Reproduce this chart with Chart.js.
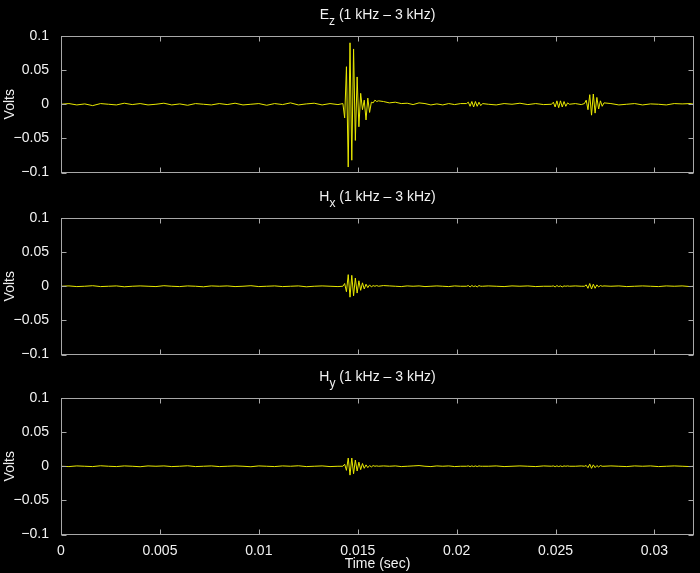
<!DOCTYPE html>
<html><head><meta charset="utf-8">
<script src="https://cdn.jsdelivr.net/npm/chart.js@4"></script>
<style>
html,body{margin:0;padding:0;background:#000;}
#wrap{position:relative;width:700px;height:573px;background:#000;}
#wrap canvas{position:absolute;left:0;top:0;}
</style></head><body>
<div id="wrap">
<canvas id="ch-ez" width="700" height="573"></canvas>
<canvas id="ch-hx" width="700" height="573"></canvas>
<canvas id="ch-hy" width="700" height="573"></canvas>
</div>
<script>
// ── DATA ──
// sample times (sec): coarse in quiet stretches, fine through the bursts
const timeSec=[
  0,0.0004,0.0008,0.0012,0.0016,0.002,0.0024,0.0028,0.0032,0.0036,
  0.004,0.0044,0.0048,0.0052,0.0056,0.006,0.0064,0.0068,0.0072,0.0076,
  0.008,0.0084,0.0088,0.0092,0.0096,0.01,0.0104,0.0108,0.0112,0.0116,
  0.012,0.0124,0.0128,0.0132,0.0136,0.014,
  0.01425,0.01434,0.01443,0.01452,0.01461,0.0147,0.01479,0.01488,0.01497,0.01506,
  0.01515,0.01524,0.01533,0.01542,0.01551,0.0156,0.01569,0.01578,0.01587,0.01596,0.01605,
  0.0163,0.0166,0.0169,0.0172,0.0175,0.0178,0.0181,0.0184,0.0187,0.019,0.0193,0.0196,0.0199,0.0202,
  0.0205,0.02059,0.02068,0.02077,0.02086,0.02095,0.02104,0.02113,0.02122,0.02131,
  0.0216,0.022,0.0224,0.0228,0.0232,0.0236,0.024,0.0244,
  0.0248,0.02489,0.02498,0.02507,0.02516,0.02525,0.02534,0.02543,0.02552,0.02561,0.0257,
  0.026,0.0263,
  0.02646,0.02655,0.02664,0.02673,0.02682,0.02691,0.027,0.02709,0.02718,0.02727,0.02736,0.02745,
  0.0278,0.0282,0.0286,0.029,0.0294,0.0298,0.0302,0.0306,0.031,0.0314,0.0318,0.032
];
// volts
const ezVolts=[
  0,0.001,-0.001,0.0005,-0.002,0.001,0,-0.001,0.0015,-0.0005,
  0.001,-0.001,0,0.0015,-0.001,0.0005,-0.0015,0.001,0,-0.001,
  0.001,-0.0005,0.0015,-0.001,0,0.001,-0.0015,0.001,-0.0005,0.002,
  -0.001,0.0005,0.0015,-0.001,0.001,-0.0005,
  0.001,-0.02,0.055,-0.092,0.09,-0.082,0.081,-0.053,0.04,-0.033,
  0.016,-0.008,0.006,-0.023,0.009,-0.012,0.003,0.002,0.006,0.004,0.005,
  0.004,0.002,0.003,0.001,0.0015,-0.0005,0.002,0.001,-0.001,0.0005,-0.001,0.001,-0.0005,0.001,
  0.001,0.003,-0.003,0.004,-0.004,0.004,-0.003,0.003,-0.002,0.001,
  0,-0.001,0.001,0,0.0015,-0.0005,0.001,-0.0005,
  0,0.003,-0.004,0.005,-0.005,0.005,-0.004,0.004,-0.003,0.002,0,
  0.001,-0.0005,
  0.001,0.006,-0.008,0.014,-0.016,0.015,-0.013,0.01,-0.007,0.005,-0.003,0.002,
  0.001,-0.001,0,0.001,-0.001,0.0005,0,-0.001,0.001,0.0005,0.001,0
];
const hxVolts=[
  0,0.0005,-0.0005,0,0.0008,-0.0005,0,0.0005,-0.0008,0,
  0.0005,0,-0.0005,0.0008,0,-0.0005,0.0005,0,-0.0008,0.0005,
  0,0.0005,-0.0005,0,0.0008,-0.0005,0,0.0005,-0.0005,0,
  0.0005,-0.0008,0,0.0005,0,-0.0005,
  0,0.004,-0.008,0.017,-0.016,0.016,-0.014,0.012,-0.01,0.008,
  -0.006,0.005,-0.004,0.003,-0.002,0.002,-0.001,0.001,0,0.001,0,
  0.001,0.0005,0,-0.0005,0.0005,0,0.0005,-0.0005,0,0.0005,0,-0.0005,0.0005,0,
  0,0.001,-0.001,0.001,-0.0005,0.0005,-0.001,0.001,0,0,
  0.0005,0,-0.0005,0.0005,0,0.0005,-0.0005,0,
  0,0.0005,-0.001,0.001,-0.0005,0.0005,-0.001,0.0005,0,0.0005,0,
  0.0005,0,
  0,0.002,-0.003,0.004,-0.004,0.003,-0.003,0.002,-0.001,0.001,0,0.0005,
  0,0.0005,-0.0005,0,0.0005,0,-0.0005,0.0005,0,0.0005,-0.0005,0
];
const hyVolts=[
  0,-0.0005,0.0005,0,-0.0005,0.0007,0,-0.0005,0.0005,0,
  -0.0007,0.0005,0,0.0005,-0.0005,0,0.0007,-0.0005,0,0.0005,
  -0.0005,0,0.0005,0,-0.0007,0.0005,0,-0.0005,0.0005,0,
  0.0007,-0.0005,0,0.0005,-0.0005,0,
  0,0.003,-0.006,0.012,-0.013,0.012,-0.011,0.009,-0.007,0.006,
  -0.005,0.004,-0.003,0.002,-0.002,0.001,-0.001,0.001,0,0.0005,0,
  0.0005,0,0.0005,-0.0005,0,0.0005,0.001,0,-0.0005,0.0005,0,0.0005,-0.0005,0,
  0,0.0005,-0.0005,0.0005,-0.0005,0.0005,-0.0005,0.0005,0,0,
  0,0.0005,-0.0005,0,0.0005,0,-0.0005,0.0005,
  0,0.0005,-0.0005,0.0005,-0.0005,0.0005,-0.0005,0.0005,0,0.0005,0,
  0,0.0005,
  0,0.001,-0.002,0.003,-0.003,0.002,-0.002,0.001,-0.001,0.001,0,0,
  0.0005,0,-0.0005,0.0005,0,0.0005,-0.0005,0,0.0005,0,-0.0005,0
];
const xTicks=[0,0.005,0.01,0.015,0.02,0.025,0.03];
const yTicks=[-0.1,-0.05,0,0.05,0.1];

// ── STYLE ──
const FONT='"Liberation Sans", Arial, Helvetica, sans-serif';
const axisColor='#a8a8a8', textColor='#f2f2f2', lineColor='#e8e800';
const TICK=5;
Chart.defaults.font.family=FONT;
Chart.defaults.font.size=14;
Chart.defaults.color=textColor;

const fmtNum=v=>{ const s=String(+v.toFixed(4)); return s.replace('-','\u2212'); };

// matlab-like box, inward ticks on all four sides, title with subscript
const boxPlugin={ id:'mbox',
  afterDraw(chart,args,o){
    const {ctx,chartArea:a,scales:{x,y}}=chart;
    const L=Math.round(a.left)+.5, R=Math.round(a.right)-.5, T=Math.round(a.top)+.5, B=Math.round(a.bottom)-.5;
    ctx.save();
    ctx.strokeStyle=axisColor; ctx.lineWidth=1;
    ctx.strokeRect(L,T,R-L,B-T);
    ctx.beginPath();
    xTicks.forEach(v=>{ const px=Math.round(x.getPixelForValue(v))+.5;
      ctx.moveTo(px,T); ctx.lineTo(px,T+TICK); ctx.moveTo(px,B); ctx.lineTo(px,B-TICK); });
    yTicks.forEach(v=>{ const py=Math.round(y.getPixelForValue(v))+.5;
      ctx.moveTo(L,py); ctx.lineTo(L+TICK,py); ctx.moveTo(R,py); ctx.lineTo(R-TICK,py); });
    ctx.stroke();
    // title
    const f1='14px '+FONT, f2='12px '+FONT;
    ctx.fillStyle=textColor; ctx.textBaseline='alphabetic'; ctx.textAlign='left';
    ctx.font=f1; const w1=ctx.measureText(o.main).width, w3=ctx.measureText(o.rest).width;
    ctx.font=f2; const w2=ctx.measureText(o.sub).width;
    let cx=(a.left+a.right)/2-(w1+w2+w3)/2;
    const by=a.top-17;
    ctx.font=f1; ctx.fillText(o.main,cx,by); cx+=w1;
    ctx.font=f2; ctx.fillText(o.sub,cx,by+6); cx+=w2;
    ctx.font=f1; ctx.fillText(o.rest,cx,by);
    ctx.restore();
  }
};

function makeChart(id,vals,sub,padTop,padBottom,showX){
  return new Chart(document.getElementById(id),{
    type:'line',
    data:{ datasets:[{ data:timeSec.map((t,i)=>({x:t,y:vals[i]})),
      borderColor:lineColor, borderWidth:1, pointRadius:0, tension:0 }] },
    options:{ responsive:false, animation:false, devicePixelRatio:1,
      layout:{ padding:{ left:0, right:6, top:padTop, bottom:padBottom } },
      plugins:{ legend:{display:false}, tooltip:{enabled:false},
        mbox:{ main:sub[0], sub:sub[1], rest:' (1 kHz \u2013 3 kHz)' } },
      scales:{
        x:{ type:'linear', min:0, max:0.032,
          grid:{display:false}, border:{display:false},
          ticks:{ display:showX, padding:0, maxRotation:0, callback:v=>fmtNum(v) },
          title:{ display:showX, text:'Time (sec)', padding:{top:0,bottom:0} },
          afterBuildTicks:s=>{ s.ticks=xTicks.map(v=>({value:v})); },
          afterFit:s=>{ s.height=showX?38.5:0; } },
        y:{ min:-0.1, max:0.1,
          grid:{display:false}, border:{display:false},
          ticks:{ padding:4, callback:v=>fmtNum(v) },
          title:{ display:true, text:'Volts', padding:{top:2,bottom:0} },
          afterBuildTicks:s=>{ s.ticks=yTicks.map(v=>({value:v})); },
          afterFit:s=>{ s.width=61; } }
      }
    },
    plugins:[boxPlugin]
  });
}

makeChart('ch-ez',ezVolts,['E','z'],36,400.5,false);
makeChart('ch-hx',hxVolts,['H','x'],218,218.5,false);
makeChart('ch-hy',hyVolts,['H','y'],398,0,true);
</script>
</body></html>
